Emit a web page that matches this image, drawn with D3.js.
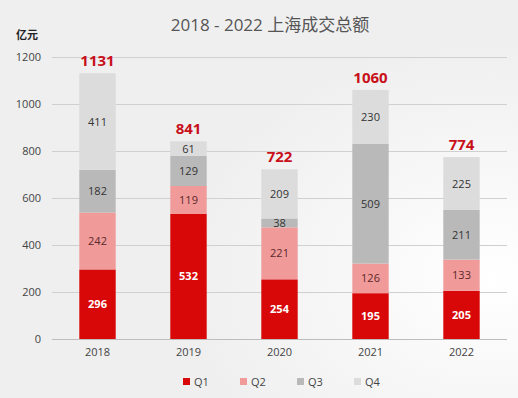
<!DOCTYPE html>
<html><head><meta charset="utf-8">
<script src="https://cdn.jsdelivr.net/npm/d3@7"></script>
<style>body{margin:0;background:#efefef;}svg{display:block;font-family:"Open Sans","Noto Sans CJK SC",sans-serif;}</style>
</head><body>
<svg id="c" width="518" height="398"></svg>
<script>
const years = ["2018","2019","2020","2021","2022"];
const seriesNames = ["Q1","Q2","Q3","Q4"];
const q1 = [296,532,254,195,205];
const q2 = [242,119,221,126,133];
const q3 = [182,129,38,509,211];
const q4 = [411,61,209,230,225];
const totals = [1131,841,722,1060,774];
const yTicks = [0,200,400,600,800,1000,1200];
const colors = ["#d90808","#f19a9a","#b9b9b9","#dcdcdc"];
const labelColors = ["#ffffff","#5a2a2a","#333333","#333333"];

const svg = d3.select("#c");
const rows = years.map((y,i)=>({year:y,Q1:q1[i],Q2:q2[i],Q3:q3[i],Q4:q4[i],total:totals[i]}));
const x = d3.scaleBand().domain(years).range([52,507]).paddingInner(0.6).paddingOuter(0.3);
const y = d3.scaleLinear().domain([0,1200]).range([339,57]);

const defs = svg.append("defs");
const rg = defs.append("radialGradient").attr("id","bg").attr("cx","0.95").attr("cy","0.7").attr("r","0.6");
rg.append("stop").attr("offset","0").attr("stop-color","#ffffff");
rg.append("stop").attr("offset","1").attr("stop-color","#efefef");
svg.append("rect").attr("width",518).attr("height",398).attr("fill","url(#bg)");

svg.append("g").selectAll("line").data(yTicks).join("line")
  .attr("x1",52).attr("x2",507).attr("y1",d=>y(d)+0.5).attr("y2",d=>y(d)+0.5)
  .attr("stroke",d=>d===0?"#bdbdbd":"#d0d0d0").attr("stroke-width",1);

const yAxis = d3.axisLeft(y).tickValues(yTicks).tickFormat(d3.format("d")).tickSize(0).tickPadding(0);
const gy = svg.append("g").attr("transform","translate(41,0)").call(yAxis);
gy.select(".domain").remove();
gy.selectAll("text").attr("font-size",11).attr("fill","#444").attr("font-family","Open Sans, sans-serif");

const xAxis = d3.axisBottom(x).tickSize(0).tickPadding(0);
const gx = svg.append("g").attr("transform","translate(0,348)").call(xAxis);
gx.select(".domain").remove();
gx.selectAll("text").attr("font-size",11).attr("fill","#444").attr("font-family","Open Sans, sans-serif");

const stack = d3.stack().keys(seriesNames)(rows);
const g = svg.append("g");
stack.forEach((s,si)=>{
  g.selectAll(null).data(s).join("rect")
    .attr("x",d=>x(d.data.year)).attr("width",x.bandwidth())
    .attr("y",d=>y(d[1])).attr("height",d=>y(d[0])-y(d[1]))
    .attr("fill",colors[si]);
  g.selectAll(null).data(s).join("text")
    .attr("x",d=>x(d.data.year)+x.bandwidth()/2)
    .attr("y",d=>(y(d[0])+y(d[1]))/2+4)
    .attr("text-anchor","middle").attr("font-size",11)
    .attr("font-weight",si===0?"bold":"normal")
    .attr("fill",labelColors[si])
    .text(d=>d[1]-d[0]);
});

svg.append("g").selectAll("text").data(rows).join("text")
  .attr("x",d=>x(d.year)+x.bandwidth()/2).attr("y",d=>y(d.total)-7)
  .attr("text-anchor","middle").attr("font-size",15).attr("font-weight","bold")
  .attr("fill","#c8101a").text(d=>d.total);

svg.append("text").attr("x",270).attr("y",31).attr("text-anchor","middle")
  .attr("font-size",17).attr("fill","#555").text("2018 - 2022 上海成交总额");
svg.append("text").attr("x",16).attr("y",39).attr("font-size",11).attr("font-weight","bold")
  .attr("fill","#222").text("亿元");

const lg = svg.append("g").selectAll("g").data(seriesNames).join("g")
  .attr("transform",(d,i)=>`translate(${183+i*57},376)`);
lg.append("rect").attr("width",7).attr("height",7).attr("y",2).attr("fill",(d,i)=>colors[i]);
lg.append("text").attr("x",11).attr("y",10).attr("font-size",11).attr("fill","#444").text(d=>d);
</script>
</body></html>
